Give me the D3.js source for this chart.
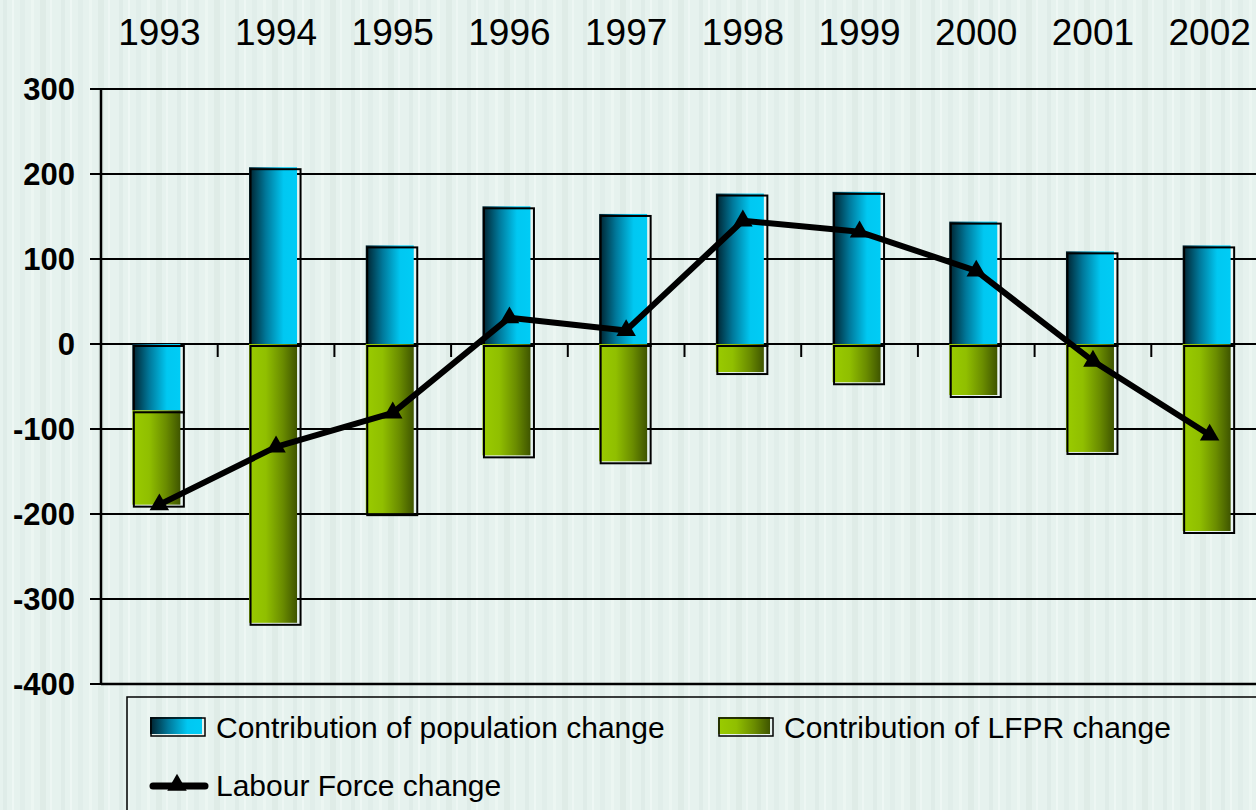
<!DOCTYPE html>
<html><head><meta charset="utf-8">
<script src="https://cdn.jsdelivr.net/npm/d3@7"></script>
<style>html,body{margin:0;padding:0;background:#e6f2ee;}svg{display:block;font-family:Arial,"Liberation Sans",sans-serif;}</style>
</head><body>
<svg id="c" width="1256" height="810"></svg>
<script>
const years = ["1993","1994","1995","1996","1997","1998","1999","2000","2001","2002"];
const popChange = [-78, 208, 116, 162, 153, 177, 179, 144, 109, 116];
const lfprChange = [-111, -328, -199, -131, -138, -33, -45, -60, -127, -220];
const labourForce = [-189, -121, -81, 31, 16, 145, 132, 86, -20, -107];
const yTicks = [300, 200, 100, 0, -100, -200, -300, -400];
const legendLabels = ["Contribution of population change", "Contribution of LFPR change", "Labour Force change"];

const svg = d3.select("#c");
const W = 1256, H = 810;
const defs = svg.append("defs");

// background stripes
const pat = defs.append("pattern").attr("id","bg").attr("patternUnits","userSpaceOnUse").attr("width",58).attr("height",10);
pat.append("rect").attr("width",58).attr("height",10).attr("fill","#e6f2ee");
[[3,4,"#dfece8"],[12,2,"#eef7f4"],[20,5,"#e1eeea"],[31,3,"#ecf6f2"],[40,6,"#dfece7"],[50,2,"#edf6f3"]].forEach(s=>{
  pat.append("rect").attr("x",s[0]).attr("width",s[1]).attr("height",10).attr("fill",s[2]);
});
svg.append("rect").attr("width",W).attr("height",H).attr("fill","url(#bg)");

const gBlue = defs.append("linearGradient").attr("id","gBlue");
gBlue.append("stop").attr("offset","0%").attr("stop-color","#00202c");
gBlue.append("stop").attr("offset","35%").attr("stop-color","#00789a");
gBlue.append("stop").attr("offset","72%").attr("stop-color","#00c8f2");
gBlue.append("stop").attr("offset","100%").attr("stop-color","#00ccf5");
const gGreen = defs.append("linearGradient").attr("id","gGreen");
gGreen.append("stop").attr("offset","0%").attr("stop-color","#9acc00");
gGreen.append("stop").attr("offset","35%").attr("stop-color","#90bf00");
gGreen.append("stop").attr("offset","70%").attr("stop-color","#6a8c00");
gGreen.append("stop").attr("offset","100%").attr("stop-color","#3f5500");

const left = 101, step = 116.7;
const x = d3.scaleBand().domain(years).range([left, left + step*years.length]).padding(0);
const y = d3.scaleLinear().domain([-400, 300]).range([684, 89]);

// gridlines
svg.append("g").selectAll("line").data(yTicks).join("line")
  .attr("x1", left-11).attr("x2", W).attr("y1", d=>y(d)).attr("y2", d=>y(d))
  .attr("stroke","#000").attr("stroke-width",2);
// y axis line
svg.append("line").attr("x1",left).attr("x2",left).attr("y1",y(300)).attr("y2",y(-400)).attr("stroke","#000").attr("stroke-width",2.5);
svg.append("line").attr("x1",left).attr("x2",W).attr("y1",y(-400)).attr("y2",y(-400)).attr("stroke","#000").attr("stroke-width",2.5);
// y labels
svg.append("g").selectAll("text").data(yTicks).join("text")
  .attr("x", 75).attr("y", d=>y(d)+11).attr("text-anchor","end")
  .attr("font-size",31).attr("font-weight","bold").text(d=>d);
// x ticks at zero
svg.append("g").selectAll("line").data(years.slice(1)).join("line")
  .attr("x1", d=>x(d)).attr("x2", d=>x(d)).attr("y1", y(0)).attr("y2", y(0)+13)
  .attr("stroke","#000").attr("stroke-width",2);
// year labels
svg.append("g").selectAll("text").data(years).join("text")
  .attr("x", d=>x(d)+x.bandwidth()/2).attr("y", 45).attr("text-anchor","middle")
  .attr("font-size",37).text(d=>d);

// stacked bars
const bw = 48;
const segs = [];
years.forEach((yr,i)=>{
  const p = popChange[i], l = lfprChange[i];
  segs.push({yr, y0:0, y1:p, fill:"url(#gBlue)"});
  const base = p < 0 ? p : 0;
  segs.push({yr, y0:base, y1:base+l, fill:"url(#gGreen)"});
});
const bars = svg.append("g");
segs.forEach(s=>{
  const bx = x(s.yr) + x.bandwidth()/2 - bw/2 - 3;
  const top = y(Math.max(s.y0,s.y1)), bot = y(Math.min(s.y0,s.y1));
  bars.append("rect").attr("x",bx).attr("y",top).attr("width",bw).attr("height",bot-top).attr("fill",s.fill);
  bars.append("rect").attr("x",bx+1.5).attr("y",top+2).attr("width",bw+2).attr("height",bot-top)
    .attr("fill","none").attr("stroke","#000").attr("stroke-width",2);
});

// line
const line = d3.line().x((d,i)=>x(years[i])+x.bandwidth()/2).y(d=>y(d));
svg.append("path").datum(labourForce).attr("d",line).attr("fill","none").attr("stroke","#000").attr("stroke-width",6).attr("stroke-linejoin","round");
const tri = d3.symbol().type(d3.symbolTriangle).size(165);
svg.append("g").selectAll("path").data(labourForce).join("path")
  .attr("d", tri).attr("transform",(d,i)=>`translate(${x(years[i])+x.bandwidth()/2},${y(d)})`).attr("fill","#000");

// legend
const lg = svg.append("g");
lg.append("rect").attr("x",127).attr("y",697).attr("width",1200).attr("height",200).attr("fill","none").attr("stroke","#000").attr("stroke-width",1.5);
const sw = [{x:150,fill:"url(#gBlue)"},{x:718,fill:"url(#gGreen)"}];
sw.forEach((s,i)=>{
  lg.append("rect").attr("x",s.x).attr("y",717).attr("width",52).attr("height",17).attr("fill",s.fill);
  lg.append("rect").attr("x",s.x+1).attr("y",718).attr("width",54).attr("height",18).attr("fill","none").attr("stroke","#000").attr("stroke-width",1.5);
  lg.append("text").attr("x",s.x+66).attr("y",738).attr("font-size",30).text(legendLabels[i]);
});
lg.append("line").attr("x1",153).attr("x2",205).attr("y1",786).attr("y2",786).attr("stroke","#000").attr("stroke-width",7).attr("stroke-linecap","round");
lg.append("path").attr("d",tri).attr("transform","translate(177,785)").attr("fill","#000");
lg.append("text").attr("x",216).attr("y",796).attr("font-size",30).text(legendLabels[2]);
</script>
</body></html>
